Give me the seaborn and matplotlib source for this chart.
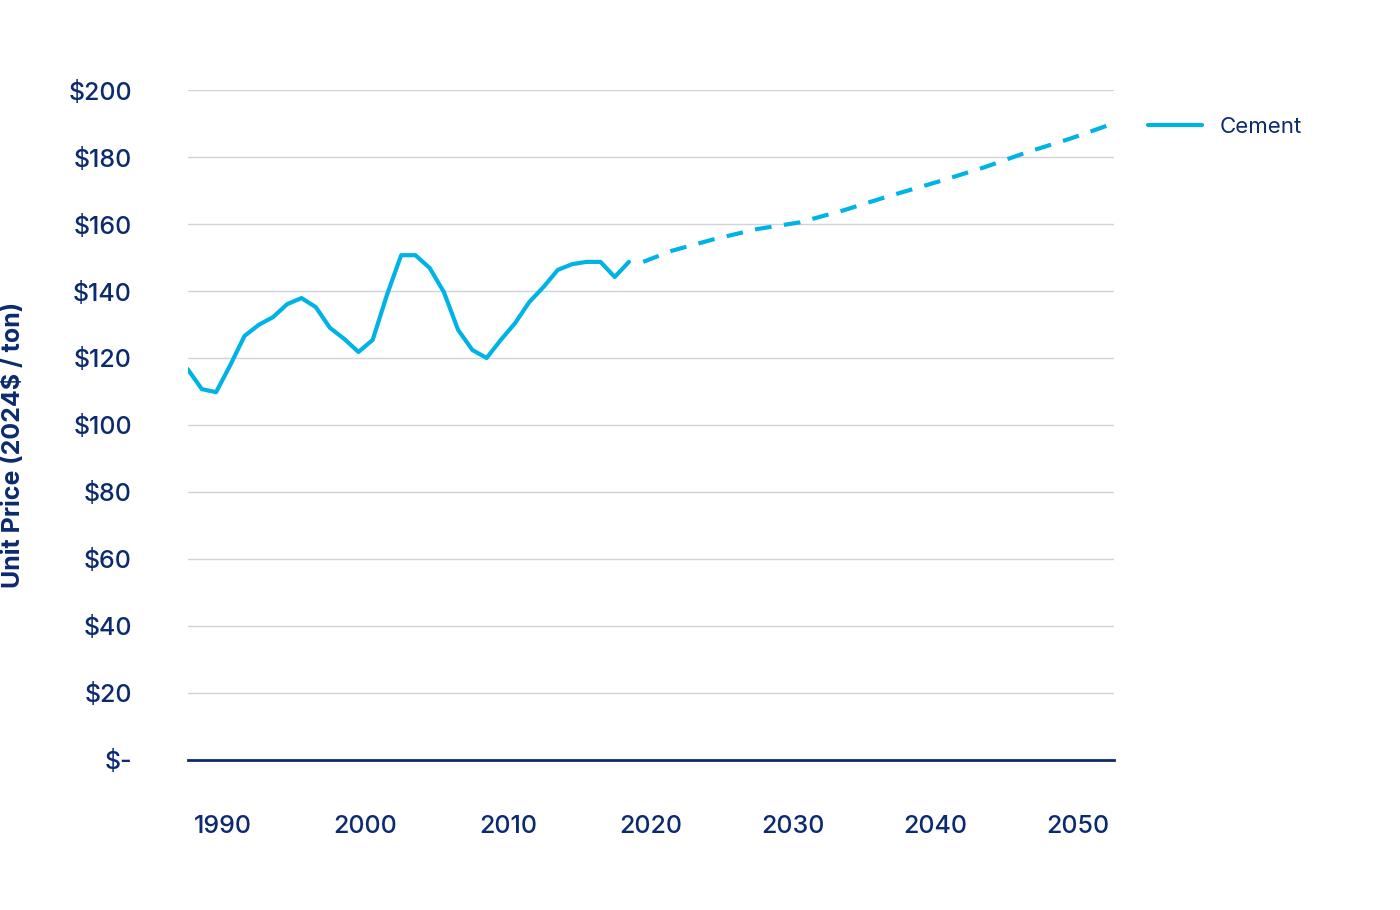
import matplotlib
matplotlib.use("Agg")
import matplotlib.pyplot as plt
import seaborn as sns
import pandas as pd

# historical cement unit price (2024$ / ton)
hist_years = list(range(1988, 2020))
hist_price = [116.7, 110.7, 109.8, 117.9, 126.6, 129.9, 132.2, 136.1, 137.9,
              135.2, 129.0, 125.7, 121.8, 125.4, 138.8, 150.7, 150.7, 146.9, 139.7,
              128.4, 122.4, 120.0, 125.4, 130.4, 136.7, 141.2, 146.3, 148.0, 148.7,
              148.7, 144.2, 148.7]
fc_years = [2020, 2022, 2025, 2028, 2031, 2034, 2037, 2041, 2044, 2047, 2050, 2053]
fc_price = [148.7, 152.0, 155.5, 158.5, 160.5, 164.0, 168.0, 173.0, 177.0, 181.5, 185.5, 190.0]

navy = "#0b2a6f"
cyan = "#00b3e6"

sns.set_theme(style="white")
plt.rcParams["font.family"] = ["Inter", "DejaVu Sans"]

fig = plt.figure(figsize=(14, 9.1), dpi=100)
ax = fig.add_axes([0.134, 0.165, 0.662, 0.736])

hist = pd.DataFrame({"year": hist_years, "price": hist_price})
fc = pd.DataFrame({"year": fc_years, "price": fc_price})
# half-year offset: points sit in category centres like the original
hist["x"] = hist["year"] - 0.5
fc["x"] = fc["year"] - 0.5

sns.lineplot(data=hist, x="x", y="price", ax=ax, color=cyan, lw=3, label="Cement")
sns.lineplot(data=fc, x="x", y="price", ax=ax, color=cyan, lw=3, ls=(0, (4, 3)))

ax.set_xlim(1987.5, 2052.6)
ax.set_ylim(0, 200)
ax.set_yticks(range(0, 201, 20))
ax.set_yticklabels(["$-"] + [f"${v}" for v in range(20, 201, 20)])
ax.set_xticks([1990, 2000, 2010, 2020, 2030, 2040, 2050])
ax.set_xticklabels(["1990", "2000", "2010", "2020", "2030", "2040", "2050"])
ax.grid(axis="y", color="#d0d3dc", lw=1)
ax.set_axisbelow(True)
for s in ["top", "right", "left"]:
    ax.spines[s].set_visible(False)
ax.spines["bottom"].set_color(navy)
ax.spines["bottom"].set_linewidth(2)
ax.tick_params(axis="both", colors=navy, labelsize=18, length=0)
ax.tick_params(axis="x", pad=40)
ax.tick_params(axis="y", pad=40)
for t in ax.get_xticklabels() + ax.get_yticklabels():
    t.set_fontweight("medium")
ax.set_xlabel("")
ax.set_ylabel("Unit Price (2024$ / ton)", color=navy, fontsize=18, fontweight="bold")
ax.yaxis.set_label_coords(-0.175, 0.47)

leg = ax.legend(loc="upper left", bbox_to_anchor=(1.015, 0.99), frameon=False,
                fontsize=16, handlelength=2.4)
for t in leg.get_texts():
    t.set_color(navy)

fig.savefig("out.png", dpi=100)
